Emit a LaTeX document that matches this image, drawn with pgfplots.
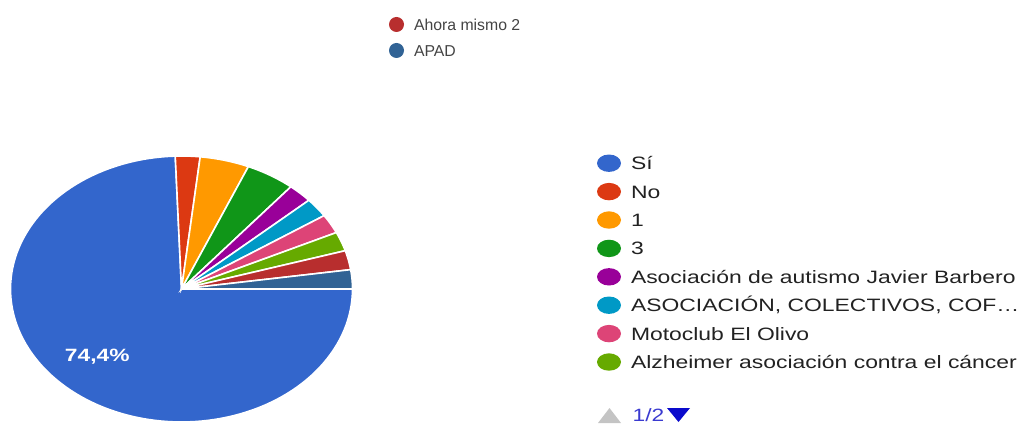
\documentclass[border=0pt]{standalone}
\usepackage{pgfplots}
\pgfplotsset{compat=1.18}
\usepackage{pgfplotstable}
\usepackage{fontspec}
\setmainfont{Liberation Sans}
\newfontfamily\legfont{Liberation Sans}[FakeStretch=1.28]
\newfontfamily\topfont{Liberation Sans}

\definecolor{slice0}{HTML}{3366CC}
\definecolor{slice1}{HTML}{DC3912}
\definecolor{slice2}{HTML}{FF9900}
\definecolor{slice3}{HTML}{109618}
\definecolor{slice4}{HTML}{990099}
\definecolor{slice5}{HTML}{0099C6}
\definecolor{slice6}{HTML}{DD4477}
\definecolor{slice7}{HTML}{66AA00}
\definecolor{slice8}{HTML}{B82E2E}
\definecolor{slice9}{HTML}{316395}
\definecolor{textgray}{HTML}{222222}
\definecolor{topgray}{HTML}{444444}
\definecolor{pagerblue}{HTML}{3A3AD0}
\definecolor{pagerdark}{HTML}{0A0ACC}
\definecolor{pagergray}{HTML}{C4C4C4}

% responses per answer
\pgfplotstableread{
label count
Si 32
No 1
Uno 2
Tres 2
Autismo 1
Colectivos 1
Motoclub 1
Alzheimer 1
Ahora 1
APAD 1
}\piedata
\pgfplotstablecreatecol[create col/expr accum={\pgfmathaccuma + \thisrow{count}}{0}]{cum}{\piedata}
\pgfplotstablegetelem{9}{cum}\of\piedata
\pgfmathsetmacro\total{\pgfplotsretval}

\begin{document}
\begin{tikzpicture}
\path[use as bounding box] (0pt,0pt) rectangle (1019pt,424pt);
\begin{axis}[
  at={(181.5pt,135pt)}, anchor=center,
  scale only axis, width=342pt, height=266pt,
  xmin=-1, xmax=1, ymin=-1, ymax=1,
  hide axis, clip=false,
  legend image code/.code={\fill[#1, draw=none] (0pt,0pt) ellipse [x radius=12pt, y radius=8.7pt];},
  legend entries={S\'i, No, 1, 3, Asociación de autismo Javier Barbero, {ASOCIACIÓN, COLECTIVOS, COF…}, Motoclub El Olivo, Alzheimer asociación contra el cáncer},
  legend cell align=left,
  legend style={at={(1.7149,1.0056)}, anchor=north west, draw=none, fill=none,
    inner sep=0pt, outer sep=0pt, row sep=11pt, column sep=10pt,
    font=\legfont\fontsize{17.9}{20}\selectfont, text=textgray,
    nodes={inner sep=0pt, text height=13pt, text depth=0pt}},
]
\pgfplotsinvokeforeach{0,...,9}{
  \pgfplotstablegetelem{#1}{count}\of\piedata \let\cnt\pgfplotsretval
  \pgfplotstablegetelem{#1}{cum}\of\piedata \let\cum\pgfplotsretval
  \pgfmathsetmacro\angA{-360*(\cum-\cnt)/\total}
  \pgfmathsetmacro\angB{-360*\cum/\total}
  \edef\doslice{\noexpand\addplot[fill=slice#1, draw=white, line width=1.6pt,
     domain=\angB:\angA, samples=120\ifnum#1>7 , forget plot\fi]
     ({cos(x)},{sin(x)}) -- (axis cs:0,0) -- cycle;}
  \doslice
}
\pgfplotstablegetelem{0}{count}\of\piedata
\pgfmathsetmacro\midA{-180*\pgfplotsretval/\total}
\pgfmathsetmacro\lx{0.71*cos(\midA)}
\pgfmathsetmacro\ly{0.71*sin(\midA)}
\edef\dolabel{\noexpand\node[text=white, font=\noexpand\legfont\noexpand\bfseries\noexpand\fontsize{17.8}{20}\noexpand\selectfont, inner sep=0pt] at (axis cs:\lx,\ly) {74,4\noexpand\%};}
\dolabel
\end{axis}
\begin{axis}[
  at={(181.5pt,135pt)}, anchor=center,
  scale only axis, width=342pt, height=266pt,
  xmin=-1, xmax=1, ymin=-1, ymax=1,
  hide axis, clip=false,
  legend image code/.code={\fill[#1, draw=none] (0pt,0pt) circle [radius=7.5pt];},
  legend cell align=left,
  legend style={at={(1.1067,1.5226)}, anchor=north west, draw=none, fill=none,
    inner sep=0pt, outer sep=0pt, row sep=11pt, column sep=10pt,
    font=\topfont\fontsize{15.8}{18}\selectfont, text=topgray,
    nodes={inner sep=0pt, text height=11.5pt, text depth=0pt}},
]
\addlegendimage{fill=slice8}
\addlegendentry{Ahora mismo 2}
\addlegendimage{fill=slice9}
\addlegendentry{APAD}
\end{axis}
\fill[pagergray] (598pt,1pt) -- (621pt,1pt) -- (609.5pt,16pt) -- cycle;
\node[anchor=base west, inner sep=0pt, text=pagerblue, font=\legfont\fontsize{17.8}{20}\selectfont] at (632.5pt,3pt) {1/2};
\fill[pagerdark] (667pt,16pt) -- (690pt,16pt) -- (678.5pt,2pt) -- cycle;
\end{tikzpicture}
\end{document}
